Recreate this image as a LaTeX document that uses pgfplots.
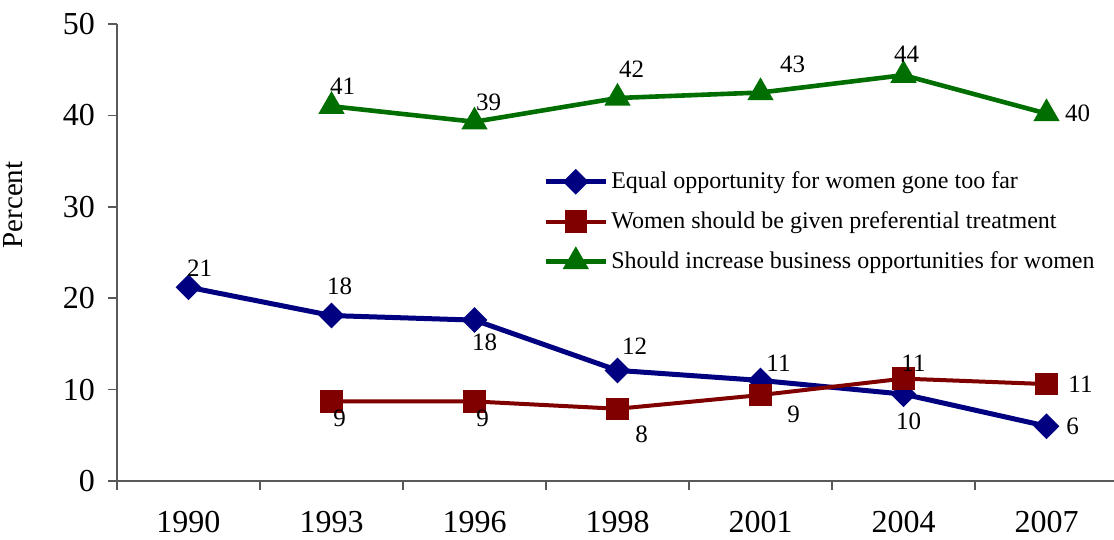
\documentclass[border=0pt]{standalone}
\usepackage{pgfplots}
\pgfplotsset{compat=1.18}
\usepackage{pgfplotstable}
\usepackage{fontspec}
\setmainfont{Liberation Serif}

\definecolor{cblue}{RGB}{0,0,128}
\definecolor{cred}{RGB}{128,0,0}
\definecolor{cgreen}{RGB}{0,110,0}

% x = category index, label, label offset (pt)
\pgfplotstableread{
x y lab dx dy
0 21.2 21 5.5 9.5
1 18.1 18 4 14.5
2 17.6 18 5 -11
3 12.1 12 8.5 12
4 11.0 11 9 8.5
5 9.5 10 2.5 -13.5
6 6.0 6 13 0
}\equalopp
\pgfplotstableread{
x y lab dx dy
1 8.7 9 4 -8.5
2 8.7 9 4 -8.5
3 7.9 8 12 -13
4 9.4 9 16.5 -9.5
5 11.2 11 5 7.5
6 10.6 11 17 0
}\preferential
\pgfplotstableread{
x y lab dx dy
1 41.0 41 5.5 10
2 39.3 39 7 9.5
3 41.9 42 7 14.5
4 42.5 43 16 14
5 44.4 44 1.5 10.5
6 40.2 40 15.5 0
}\business

\begin{document}
\begin{tikzpicture}
\begin{axis}[
    name=ax,
    scale only axis,
    width=500.5pt, height=228.5pt,
    xmin=-0.5, xmax=6.5,
    ymin=0, ymax=50,
    axis x line*=bottom,
    axis y line*=left,
    axis line style={gray!70!black, line width=0.8pt},
    xtick={0,...,6},
    xticklabels={1990,1993,1996,1998,2001,2004,2007},
    major x tick style={draw=none},
    minor xtick={-0.5,0.5,...,6.5},
    minor x tick style={gray!70!black, line width=0.8pt},
    ytick={0,10,...,50},
    y tick style={gray!70!black, line width=0.8pt},
    tick align=outside,
    major tick length=4.5pt,
    minor tick length=4.5pt,
    /pgf/number format/assume math mode=true,
    ticklabel style={font=\fontsize{16}{18}\selectfont},
    xticklabel style={yshift=-7pt},
    yticklabel style={xshift=-3pt},
    ylabel={Percent},
    ylabel style={at={(axis description cs:-0.1034,0.604)}, anchor=center,
                  font=\fontsize{14.5}{16}\selectfont},
    legend style={at={(0.4195,0.695)}, anchor=north west, draw=none, fill=none,
                  font=\fontsize{12}{14}\selectfont, row sep=6pt,
                  nodes={inner xsep=1.5pt},
                  cells={anchor=west}},
    legend image code/.code={%
        \draw[mark repeat=2,mark phase=2,#1]
        plot coordinates {(0pt,0pt)(15pt,0pt)(30pt,0pt)};},
    point meta=explicit symbolic,
    nodes near coords,
    visualization depends on={\thisrow{dx} \as \dx},
    visualization depends on={\thisrow{dy} \as \dy},
    nodes near coords style={anchor=center, xshift=\dx pt, yshift=\dy pt,
                             text=black, font=\fontsize{12.5}{14}\selectfont},
]
\addplot[cblue, line width=2.5pt, mark=square*, mark size=3.3pt,
         mark options={rotate=45, solid}]
    table[x=x, y=y, meta=lab] {\equalopp};
\addlegendentry{Equal opportunity for women gone too far}
\addplot[cred, line width=2pt, mark=square*, mark size=4.6pt]
    table[x=x, y=y, meta=lab] {\preferential};
\addlegendentry{Women should be given preferential treatment}
\addplot[cgreen, line width=2.3pt, mark=triangle*, mark size=5.3pt]
    table[x=x, y=y, meta=lab] {\business};
\addlegendentry{Should increase business opportunities for women}
\end{axis}
\pgfresetboundingbox
\path ([shift={(-58.5pt,-29.5pt)}]ax.south west) rectangle ([shift={(-2pt,12pt)}]ax.north east);
\end{tikzpicture}
\end{document}
